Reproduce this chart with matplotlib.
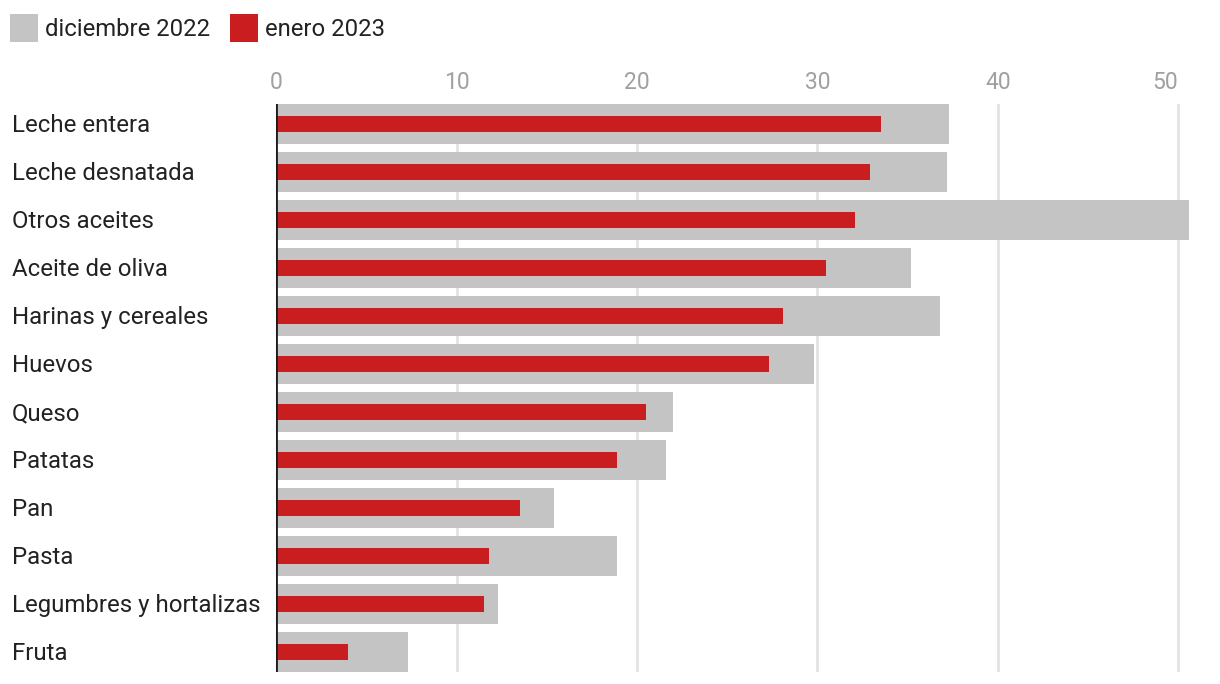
import matplotlib.pyplot as plt
import matplotlib.patches as patches
import matplotlib.transforms as transforms

plt.rcParams['font.family'] = ['Roboto', 'DejaVu Sans']

# datos
categorias = ['Leche entera', 'Leche desnatada', 'Otros aceites', 'Aceite de oliva',
              'Harinas y cereales', 'Huevos', 'Queso', 'Patatas', 'Pan', 'Pasta',
              'Legumbres y hortalizas', 'Fruta']
diciembre_2022 = [37.3, 37.2, 50.6, 35.2, 36.8, 29.8, 22.0, 21.6, 15.4, 18.9, 12.3, 7.3]
enero_2023 = [33.5, 32.9, 32.1, 30.5, 28.1, 27.3, 20.5, 18.9, 13.5, 11.8, 11.5, 4.0]
ticks = [0, 10, 20, 30, 40, 50]

gris = '#c4c4c4'
rojo = '#c91d1f'
texto = '#222222'

fig = plt.figure(figsize=(12.2, 6.84), dpi=100)
ax = fig.add_axes([276.2 / 1220, 12 / 684, (1190 - 276.2) / 1220, (672 - 104) / 684])

y = list(range(len(categorias)))
ax.barh(y, diciembre_2022, height=40 / 48, color=gris, zorder=2)
ax.barh(y, enero_2023, height=16 / 48, color=rojo, zorder=3)

ax.set_xlim(0, 50.65)
ax.set_ylim(len(categorias) - 1 + 20 / 48, -20 / 48)

# rejilla
for t in ticks[1:]:
    ax.axvline(t, color='#e2e2e2', linewidth=2, zorder=1)
ax.axvline(0, color='#1a1a1a', linewidth=2, zorder=4)

for s in ax.spines.values():
    s.set_visible(False)

ax.xaxis.tick_top()
ax.set_xticks(ticks)
ax.set_xticklabels([str(t) for t in ticks])
ax.tick_params(axis='x', length=0, pad=7, labelsize=16.5, labelcolor='#a0a0a0')
ax.get_xticklabels()[-1].set_horizontalalignment('right')
ax.set_yticks([])

# etiquetas de categoria alineadas a la izquierda
trans = transforms.blended_transform_factory(fig.transFigure, ax.transData)
for i, c in enumerate(categorias):
    ax.text(12 / 1220, i + 0.04, c, transform=trans, ha='left', va='center',
            fontsize=17.3, color=texto, clip_on=False)

# leyenda manual
def leyenda(x0, color, label):
    fig.patches.append(patches.Rectangle((x0 / 1220, 1 - 42 / 684), 28 / 1220, 28 / 684,
                                         transform=fig.transFigure, facecolor=color,
                                         edgecolor='none'))
    fig.text((x0 + 35) / 1220, 1 - 29 / 684, label, ha='left', va='center',
             fontsize=17.2, color=texto)

leyenda(10, gris, 'diciembre 2022')
leyenda(230, rojo, 'enero 2023')

fig.savefig('out.png', dpi=100)
